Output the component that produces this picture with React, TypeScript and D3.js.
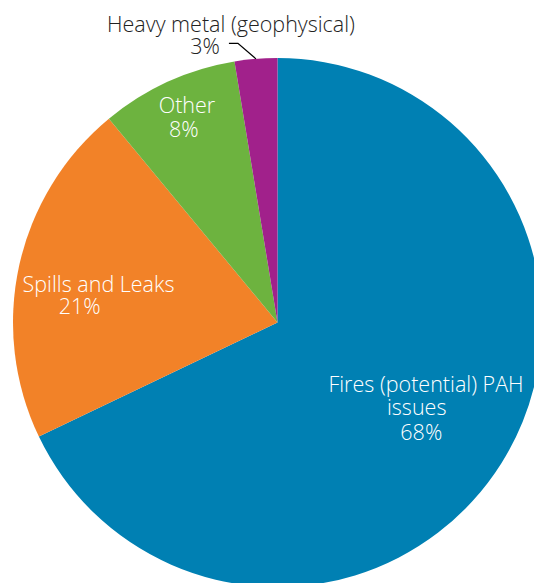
import React from "react";
import * as d3 from "d3";

const categories = ["Fires (potential) PAH issues", "Spills and Leaks", "Other", "Heavy metal (geophysical)"];
const values = [67.9, 21.1, 8.4, 2.6];
const pctLabels = ["68%", "21%", "8%", "3%"];
const colors = ["#0080B3", "#F28228", "#6DB33F", "#A1218B"];

const W = 534;
const H = 583;
const cx = 277.5;
const cy = 322.5;
const R = 264.5;
const FONT = "'Open Sans', 'Noto Sans', sans-serif";
const FS = 21.5;

export default function App() {
  const pie = d3.pie<number>().sort(null).startAngle(0).endAngle(2 * Math.PI);
  const arcs = pie(values);
  const arc = d3.arc<d3.PieArcDatum<number>>().innerRadius(0).outerRadius(R);

  const heavy = arcs[3];
  const mid = (heavy.startAngle + heavy.endAngle) / 2;
  const p0: [number, number] = [cx + R * Math.sin(mid), cy - R * Math.cos(mid)];
  const p1: [number, number] = [p0[0] - 18, p0[1] - 15.5];
  const p2: [number, number] = [p1[0] - 9, p1[1]];

  const txt = (x: number, y: number, s: string, fill: string, key: string) => (
    <text key={key} x={x} y={y} textAnchor="middle" fill={fill} fontFamily={FONT} fontSize={FS} fontWeight={300}>
      {s}
    </text>
  );

  return (
    <svg width={W} height={H} style={{ position: "absolute", left: 0, top: 0, background: "#fff" }}>
      <g transform={`translate(${cx},${cy})`}>
        {arcs.map((a, i) => (
          <path key={i} d={arc(a) || ""} fill={colors[i]} />
        ))}
      </g>
      <path d={d3.line()([p2, p1, p0]) || ""} fill="none" stroke="#000" strokeWidth={1.3} />
      {txt(426, 392.3, "Fires (potential) PAH", "#fff", "f1")}
      {txt(416.7, 415, "issues", "#fff", "f2")}
      {txt(421.3, 440, pctLabels[0], "#fff", "f3")}
      {txt(98.5, 292.3, categories[1], "#fff", "s1")}
      {txt(79.7, 314.3, pctLabels[1], "#fff", "s2")}
      {txt(187, 113.3, categories[2], "#fff", "o1")}
      {txt(183.7, 136.5, pctLabels[2], "#fff", "o2")}
      {txt(231, 31.5, categories[3], "#222", "h1")}
      {txt(205, 54, pctLabels[3], "#222", "h2")}
    </svg>
  );
}
